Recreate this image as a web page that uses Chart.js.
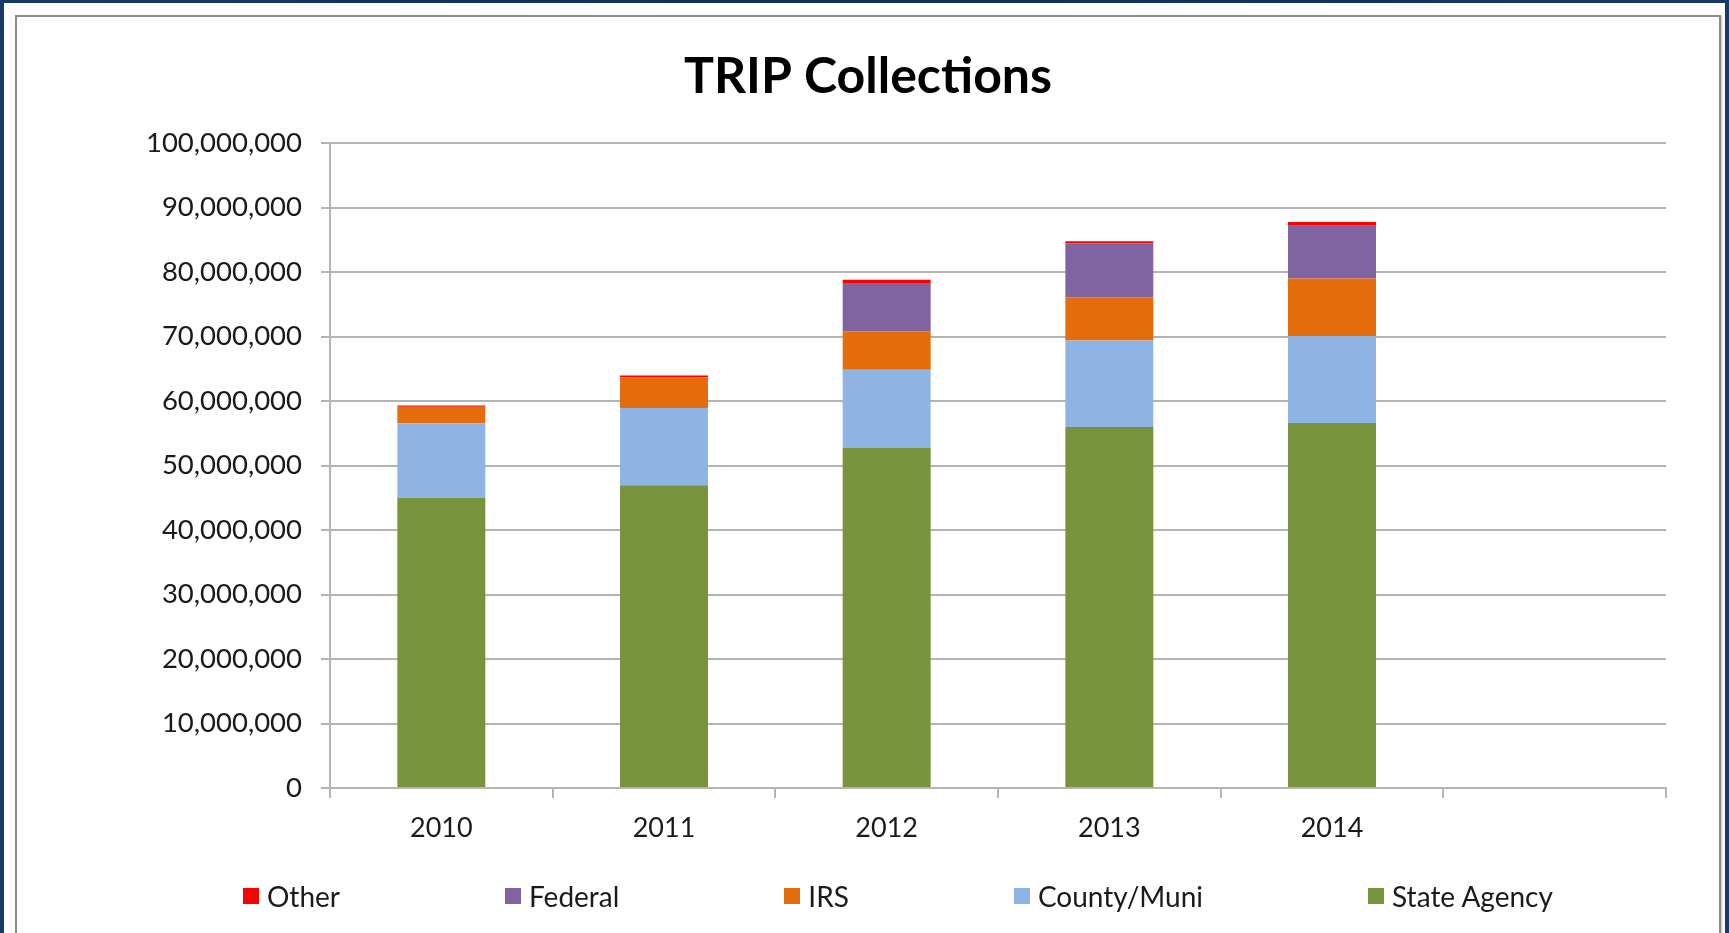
<!DOCTYPE html>
<html>
<head>
<meta charset="utf-8">
<script src="https://cdn.jsdelivr.net/npm/chart.js@4.4.1/dist/chart.umd.min.js"></script>
<style>
  html, body { margin: 0; padding: 0; }
  body {
    width: 1729px; height: 933px; overflow: hidden; position: relative;
    background: linear-gradient(90deg, #153a66, #0f2f57 50%, #153a66);
    font-family: Lato, "Open Sans", sans-serif;
  }
  .sheet { position: absolute; left: 4px; top: 3px; width: 1721px; height: 940px; background: #fff; }
  .frame {
    position: absolute; left: 15px; top: 15px; width: 1702px; height: 940px;
    border: 2px solid #8c8c8c; border-bottom: none;
    box-shadow: 1px 1px 2px rgba(0,0,0,0.25);
  }
  #chart { position: absolute; left: 0; top: 0; }
  #legend {
    position: absolute; left: 243px; top: 881px; height: 30px;
    display: flex; align-items: center; gap: 165px;
    font-size: 28px; color: #1a1a1a; white-space: nowrap;
  }
  #legend .item { display: flex; align-items: center; gap: 8px; }
  #legend .box { width: 16px; height: 16px; display: inline-block; }
</style>
</head>
<body>
<div class="sheet"></div>
<div class="frame"></div>
<canvas id="chart" width="1729" height="933"></canvas>
<div id="legend"></div>
<script>
// ---- data ----
const years = ['2010', '2011', '2012', '2013', '2014', ''];
const stateAgency = [45000000, 46950000, 52700000, 55950000, 56600000];
const countyMuni  = [11550000, 11950000, 12140000, 13430000, 13460000];
const irs         = [2550000, 4800000, 5960000, 6670000, 8940000];
const federal     = [0, 0, 7500000, 8350000, 8270000];
const other       = [200000, 250000, 500000, 350000, 470000];
const yTicks = [0, 10000000, 20000000, 30000000, 40000000, 50000000,
                60000000, 70000000, 80000000, 90000000, 100000000];

const series = [
    { label: 'State Agency', data: stateAgency, color: '#77933c' },
    { label: 'County/Muni',  data: countyMuni,  color: '#8eb4e3' },
    { label: 'IRS',          data: irs,         color: '#e46c0a' },
    { label: 'Federal',      data: federal,     color: '#8064a2' },
    { label: 'Other',        data: other,       color: '#ff0000' }
];

const gridColor = '#b4b4b4';
const textColor = '#1a1a1a';

const chart = new Chart(document.getElementById('chart'), {
    type: 'bar',
    data: {
        labels: years,
        datasets: series.map(s => ({
            label: s.label,
            data: s.data,
            backgroundColor: s.color,
            borderWidth: 0,
            categoryPercentage: 1,
            barPercentage: 0.395
        }))
    },
    options: {
        responsive: false,
        animation: false,
        layout: { padding: { left: 70, right: 63, top: 47, bottom: 85 } },
        scales: {
            x: {
                stacked: true,
                offset: true,
                grid: { display: true, drawOnChartArea: false, offset: true, tickLength: 10, color: gridColor, lineWidth: 2 },
                border: { color: gridColor, width: 2 },
                ticks: { color: textColor, padding: 14, font: { family: 'Lato', size: 27 } },
                afterFit: scale => { scale.height = 60; }
            },
            y: {
                stacked: true,
                min: 0,
                max: 100000000,
                afterBuildTicks: scale => { scale.ticks = yTicks.map(v => ({ value: v })); },
                grid: { color: gridColor, lineWidth: 2, tickLength: 9 },
                border: { color: gridColor, width: 2 },
                ticks: {
                    color: textColor, padding: 19,
                    font: { family: 'Lato', size: 27.5 },
                    callback: v => Number(v).toLocaleString('en-US')
                },
                afterFit: scale => { scale.width = 260; }
            }
        },
        plugins: {
            legend: { display: false },
            tooltip: { enabled: false },
            title: {
                display: true,
                text: 'TRIP Collections',
                color: '#000',
                font: { family: 'Lato', size: 50, weight: 'bold', lineHeight: 1.2 },
                padding: { top: 0, bottom: 36 }
            }
        }
    }
});

// legend, Excel style: reverse of stacking order
const legendEl = document.getElementById('legend');
chart.data.datasets.slice().reverse().forEach(ds => {
    const item = document.createElement('span');
    item.className = 'item';
    const box = document.createElement('span');
    box.className = 'box';
    box.style.background = ds.backgroundColor;
    const txt = document.createElement('span');
    txt.textContent = ds.label;
    item.appendChild(box);
    item.appendChild(txt);
    legendEl.appendChild(item);
});
</script>
</body>
</html>
